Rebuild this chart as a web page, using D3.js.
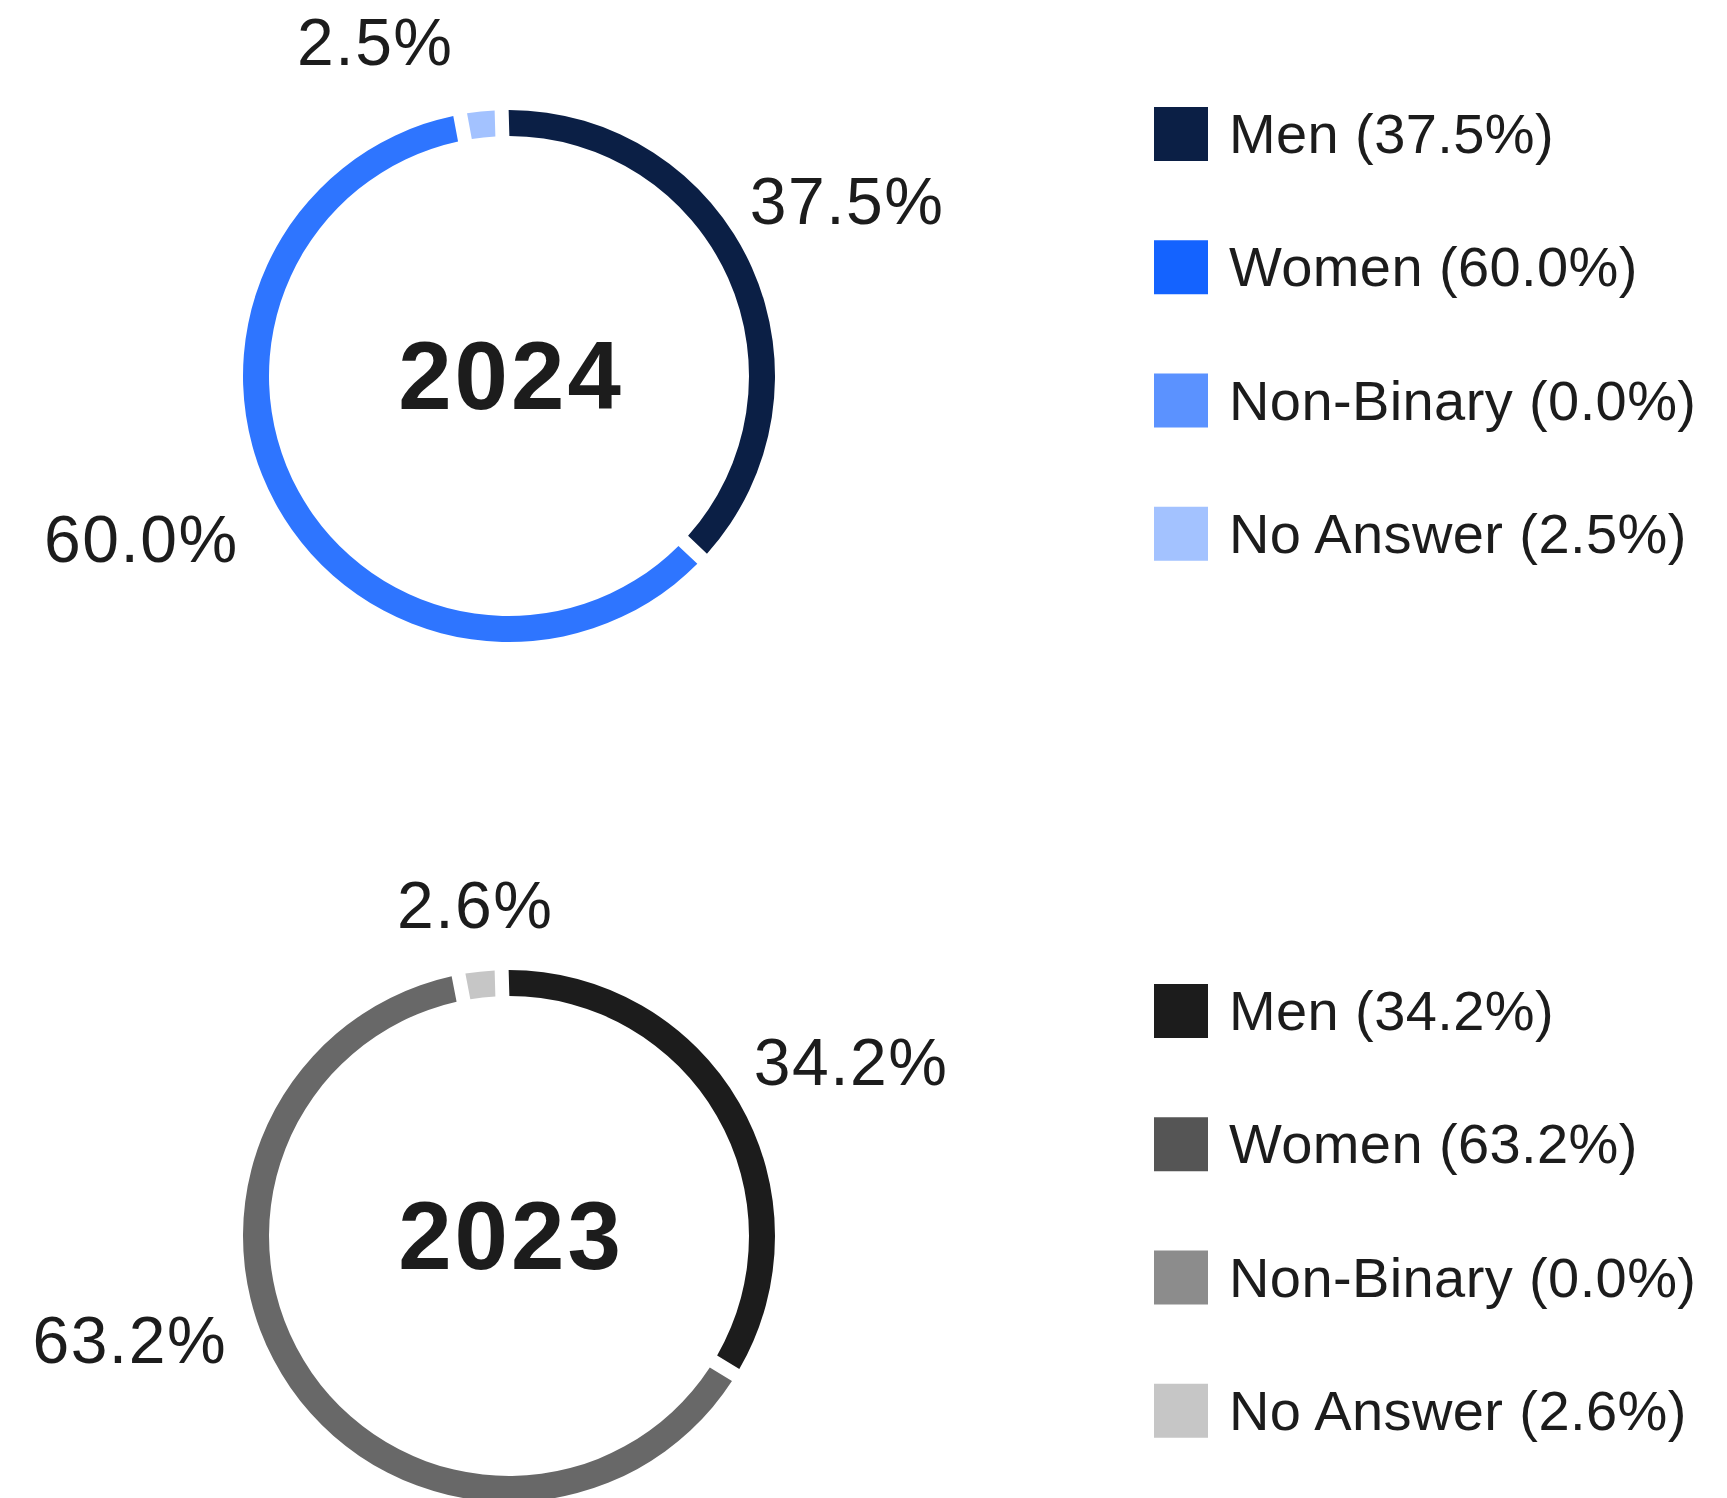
<!DOCTYPE html>
<html>
<head>
<meta charset="utf-8">
<script src="https://cdn.jsdelivr.net/npm/d3@7"></script>
<style>
  body { margin: 0; background: #fff; }
  svg { display: block; }
  text { font-family: "Liberation Sans", Arial, sans-serif; fill: #1c1c1c; }
</style>
</head>
<body>
<div id="chart"></div>
<script>
// data
var categories = ["Men", "Women", "Non-Binary", "No Answer"];
var years = ["2024", "2023"];
var values2024 = [37.5, 60.0, 0.0, 2.5];
var values2023 = [34.2, 63.2, 0.0, 2.6];

// colours
var legendColors2024 = ["#0b1f45", "#1463ff", "#5b92ff", "#a3c2ff"];
var arcColors2024 = ["#0b1f45", "#2e75ff", "#5b92ff", "#a3c2ff"];
var legendColors2023 = ["#1c1c1c", "#555555", "#8c8c8c", "#c6c6c6"];
var arcColors2023 = ["#1c1c1c", "#686868", "#8c8c8c", "#c6c6c6"];

var width = 1727;
var height = 1498;

var outerR = 266;
var innerR = 240;
var gap = 14;               // white gap between slices, px
var padR = (innerR + outerR) / 2;
var pa = gap / padR;

// label nudges, px, per category (layout only)
var labelNudge2024 = [[-13, -30], [-29, -10], [0, 0], [-107, 5]];
var labelNudge2023 = [[8, 7], [-61, -104], [0, 0], [-6, 8]];

var panels = [
  { year: years[0], values: values2024, arcColors: arcColors2024, legendColors: legendColors2024,
    nudge: labelNudge2024, cy: 376, legendTop: 107 },
  { year: years[1], values: values2023, arcColors: arcColors2023, legendColors: legendColors2023,
    nudge: labelNudge2023, cy: 1236, legendTop: 984 }
];

var svg = d3.select("#chart")
  .append("svg")
  .attr("width", width)
  .attr("height", height);

var pie = d3.pie()
  .sort(null)
  .value(function (d) { return d.value; });

var arc = d3.arc()
  .innerRadius(innerR)
  .outerRadius(outerR)
  .padAngle(pa)
  .padRadius(padR);

var fmt = d3.format(".1f");

var legendScale = d3.scaleBand()
  .domain(categories)
  .range([0, 533])
  .paddingInner(0);

function labelPos(d, p) {
  var L = d.data.cat === "No Answer" ? 340 : 380;
  var c = d3.arc().innerRadius(L).outerRadius(L).centroid(d);
  return [c[0] + p.nudge[d.data.i][0], c[1] + p.nudge[d.data.i][1]];
}

panels.forEach(function (p) {
  var rows = categories.map(function (c, i) {
    return { cat: c, value: p.values[i], i: i };
  });

  var g = svg.append("g")
    .attr("transform", "translate(" + [509, p.cy] + ")");

  // zero slices are skipped so they don't add an extra gap
  var arcs = pie(rows.filter(function (d) { return d.value > 0; }));

  g.selectAll("path.slice")
    .data(arcs)
    .enter()
    .append("path")
    .attr("class", "slice")
    .attr("fill", function (d) { return p.arcColors[d.data.i]; })
    .attr("d", function (d) {
      // shift back by half a pad so each slice starts on its own angle
      return arc({ startAngle: d.startAngle - pa / 2, endAngle: d.endAngle - pa / 2 });
    });

  g.selectAll("text.pct")
    .data(arcs)
    .enter()
    .append("text")
    .attr("class", "pct")
    .attr("text-anchor", "middle")
    .style("font-size", "66px")
    .style("letter-spacing", "1.5px")
    .attr("x", function (d) { return labelPos(d, p)[0]; })
    .attr("y", function (d) { return labelPos(d, p)[1] + 23; })
    .text(function (d) { return fmt(d.data.value) + "%"; });

  g.append("text")
    .attr("text-anchor", "middle")
    .attr("x", 2)
    .attr("y", 33)
    .style("font-size", "96px")
    .style("font-weight", "bold")
    .style("letter-spacing", "3px")
    .text(p.year);

  var lg = svg.append("g")
    .attr("transform", "translate(" + [1154, p.legendTop] + ")");

  var item = lg.selectAll("g.item")
    .data(rows)
    .enter()
    .append("g")
    .attr("class", "item")
    .attr("transform", function (d) { return "translate(0," + legendScale(d.cat) + ")"; });

  item.append("rect")
    .attr("width", 54)
    .attr("height", 54)
    .attr("fill", function (d) { return p.legendColors[d.i]; });

  item.append("text")
    .attr("x", 75)
    .attr("y", 46)
    .style("font-size", "56px")
    .style("letter-spacing", "0.4px")
    .text(function (d) { return d.cat + " (" + fmt(d.value) + "%)"; });
});
</script>
</body>
</html>
